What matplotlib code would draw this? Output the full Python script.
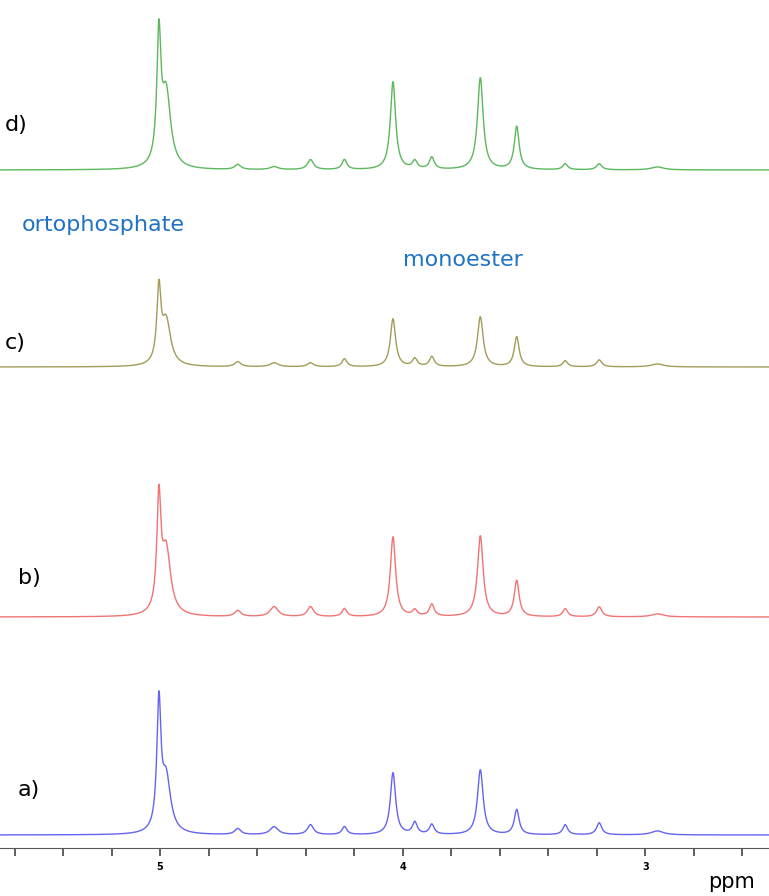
import numpy as np
import matplotlib
matplotlib.use("Agg")
import matplotlib.pyplot as plt
from matplotlib.ticker import MultipleLocator, FuncFormatter

# peak positions (ppm) and half-widths shared by all spectra
peak_ppm = [5.005, 4.975, 4.68, 4.53, 4.38, 4.24, 4.04, 3.95, 3.88, 3.68, 3.53, 3.33, 3.19, 2.95]
peak_hw = [0.010, 0.022, 0.015, 0.02, 0.015, 0.012, 0.013, 0.012, 0.012, 0.014, 0.012, 0.012, 0.013, 0.03]

# peak heights (pixels above baseline) for each trace
heights = {
    "a)": [125, 55, 6, 8, 10, 8, 62, 12, 10, 65, 25, 10, 12, 4],
    "b)": [110, 65, 6, 10, 10, 8, 80, 6, 12, 81, 36, 8, 10, 3],
    "c)": [72, 45, 5, 4, 4, 8, 48, 8, 10, 50, 30, 6, 7, 3],
    "d)": [125, 75, 5, 3, 10, 10, 88, 8, 12, 92, 43, 6, 6, 3],
}
baselines = {"a)": 835, "b)": 617, "c)": 367, "d)": 170}
colors = {"a)": "#6464f0", "b)": "#f07474", "c)": "#a29c58", "d)": "#5cb85c"}
label_pos = {"a)": (18, 790), "b)": (18, 578), "c)": (5, 343), "d)": (5, 125)}

ppm = np.linspace(5.66, 2.49, 2000)

fig = plt.figure(figsize=(7.69, 8.96), dpi=100)
ax = fig.add_axes([0, 48 / 896, 1, 848 / 896])
ax.set_xlim(5.66, 2.49)
ax.set_ylim(848, 0)

for key, h in heights.items():
    y = np.zeros_like(ppm)
    for p, w, a in zip(peak_ppm, peak_hw, h):
        y += a * w**2 / ((ppm - p) ** 2 + w**2)
    ax.plot(ppm, baselines[key] - y, color=colors[key], lw=1.0)
    fig.text(label_pos[key][0] / 769, 1 - label_pos[key][1] / 896, key,
             fontsize=16, va="center", ha="left")

fig.text(22 / 769, 1 - 225 / 896, "ortophosphate", color="#1f72c4", fontsize=16, va="center")
fig.text(403 / 769, 1 - 260 / 896, "monoester", color="#1f72c4", fontsize=16, va="center")
fig.text(708 / 769, 1 - 882 / 896, "ppm", fontsize=15, va="center")

for s in ["top", "left", "right"]:
    ax.spines[s].set_visible(False)
ax.spines["bottom"].set_color("#555555")
ax.yaxis.set_visible(False)
ax.xaxis.set_major_locator(MultipleLocator(0.2))
ax.xaxis.set_major_formatter(FuncFormatter(
    lambda v, _: f"{int(round(v))}" if abs(v - round(v)) < 1e-6 else ""))
ax.tick_params(axis="x", direction="out", length=6, width=1.2, color="#444444",
               labelsize=7, pad=4)
for t in ax.get_xticklabels():
    t.set_fontweight("bold")

fig.savefig("out.png", dpi=100)
